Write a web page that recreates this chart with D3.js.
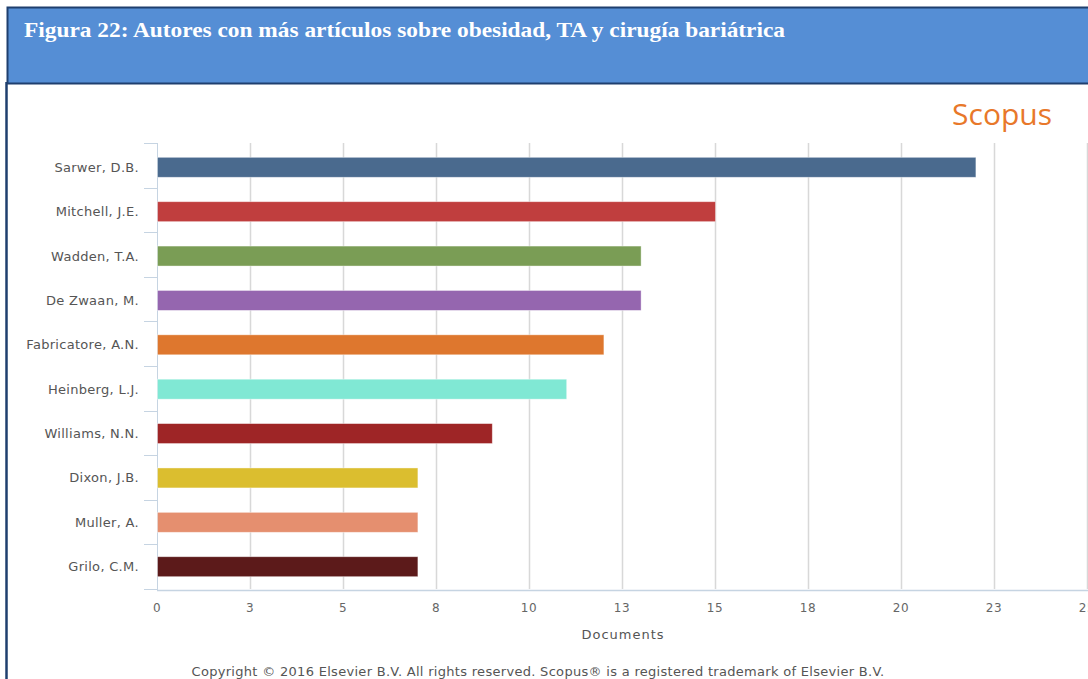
<!DOCTYPE html>
<html>
<head>
<meta charset="utf-8">
<script src="https://cdn.jsdelivr.net/npm/d3@7"></script>
<style>
  html, body { margin: 0; padding: 0; background: #fff; }
  svg { display: block; }
</style>
</head>
<body>
<svg id="chart" width="1088" height="679"></svg>
<script>
// Authors and their document counts
const authors = ["Sarwer, D.B.", "Mitchell, J.E.", "Wadden, T.A.", "De Zwaan, M.", "Fabricatore, A.N.",
                 "Heinberg, L.J.", "Williams, N.N.", "Dixon, J.B.", "Muller, A.", "Grilo, C.M."];
const documents = [22, 15, 13, 13, 12, 11, 9, 7, 7, 7];
const barColors = ["#4A6A8E", "#C03E3E", "#7A9D55", "#9566AF", "#DE772E",
                   "#80E8D4", "#9E2526", "#DBBE2F", "#E58F6F", "#5C1A1A"];
const tickValues = [0, 2.5, 5, 7.5, 10, 12.5, 15, 17.5, 20, 22.5, 25];
const tickLabels = ["0", "3", "5", "8", "10", "13", "15", "18", "20", "23", "25"];

const titleText = "Figura 22: Autores con más artículos sobre obesidad, TA y cirugía bariátrica";
const axisTitle = "Documents";
const copyright = "Copyright © 2016 Elsevier B.V. All rights reserved. Scopus® is a registered trademark of Elsevier B.V.";

const svg = d3.select("#chart");
const labelFont = "'DejaVu Sans', sans-serif";

// Page frame: header band and left rule
svg.append("rect")
  .attr("x", 7.5).attr("y", 7.5).attr("width", 1090).attr("height", 76)
  .attr("fill", "#558ED5").attr("stroke", "#1F3F6E").attr("stroke-width", 2);
svg.append("line")
  .attr("x1", 6.5).attr("x2", 6.5).attr("y1", 82).attr("y2", 679)
  .attr("stroke", "#1F3F6E").attr("stroke-width", 2.5);

svg.append("text")
  .attr("x", 24).attr("y", 37)
  .attr("fill", "#fff")
  .attr("font-family", "'Liberation Serif', 'DejaVu Serif', serif")
  .attr("font-weight", "bold")
  .attr("font-size", 21.5)
  .attr("textLength", 761).attr("lengthAdjust", "spacingAndGlyphs")
  .text(titleText);

// Scales
const x = d3.scaleLinear().domain([0, 25]).range([157, 1087]);
const y = d3.scaleBand().domain(authors).range([143, 589]).paddingInner(0.55).paddingOuter(0.3);

// Vertical grid lines
svg.append("g").selectAll("line")
  .data(tickValues.slice(1))
  .join("line")
  .attr("x1", d => Math.round(x(d)) + 0.5).attr("x2", d => Math.round(x(d)) + 0.5)
  .attr("y1", 143).attr("y2", 589)
  .attr("stroke", "#D8D8D8").attr("stroke-width", 1.5);

// Y axis line with category separators
const sepYs = d3.range(authors.length + 1).map(i => 143 + i * (446 / authors.length));
svg.append("g").selectAll("line")
  .data(sepYs)
  .join("line")
  .attr("x1", 144).attr("x2", 157)
  .attr("y1", d => Math.round(d) + 0.5).attr("y2", d => Math.round(d) + 0.5)
  .attr("stroke", "#C6D4E2").attr("stroke-width", 1);
svg.append("line")
  .attr("x1", 157.5).attr("x2", 157.5).attr("y1", 143).attr("y2", 590)
  .attr("stroke", "#C6D4E2").attr("stroke-width", 1);

// X axis line
svg.append("line")
  .attr("x1", 157).attr("x2", 1088).attr("y1", 590.5).attr("y2", 590.5)
  .attr("stroke", "#C6D4E2").attr("stroke-width", 1.5);

// Bars
svg.append("g").selectAll("rect")
  .data(authors)
  .join("rect")
  .attr("x", x(0) + 0.5)
  .attr("y", d => y(d) + 1)
  .attr("width", (d, i) => x(documents[i]) - x(0))
  .attr("height", y.bandwidth())
  .attr("fill", (d, i) => barColors[i])
  .attr("stroke", "rgba(255,255,255,0.5)").attr("stroke-width", 0.8);

// Category labels
svg.append("g").selectAll("text")
  .data(authors)
  .join("text")
  .attr("x", 139)
  .attr("y", d => y(d) + 1 + y.bandwidth() / 2)
  .attr("dy", "0.35em")
  .attr("text-anchor", "end")
  .attr("font-family", labelFont).attr("font-size", 13)
  .attr("letter-spacing", 0.3)
  .attr("fill", "#555")
  .text(d => d);

// X tick labels
svg.append("g").selectAll("text")
  .data(tickValues)
  .join("text")
  .attr("x", d => x(d))
  .attr("y", 612)
  .attr("text-anchor", "middle")
  .attr("font-family", labelFont).attr("font-size", 12)
  .attr("letter-spacing", 0.6)
  .attr("fill", "#666")
  .text((d, i) => tickLabels[i]);

svg.append("text")
  .attr("x", 623).attr("y", 639)
  .attr("text-anchor", "middle")
  .attr("font-family", labelFont).attr("font-size", 13)
  .attr("letter-spacing", 1)
  .attr("fill", "#555")
  .text(axisTitle);

svg.append("text")
  .attr("x", 538).attr("y", 676)
  .attr("text-anchor", "middle")
  .attr("font-family", labelFont).attr("font-size", 13)
  .attr("letter-spacing", 0.3)
  .attr("fill", "#555")
  .text(copyright);

// Scopus wordmark
svg.append("text")
  .attr("x", 1052).attr("y", 125)
  .attr("text-anchor", "end")
  .attr("font-family", "'Open Sans', Lato, sans-serif")
  .attr("font-size", 30)
  .attr("fill", "#E8782A")
  .text("Scopus");
</script>
</body>
</html>
